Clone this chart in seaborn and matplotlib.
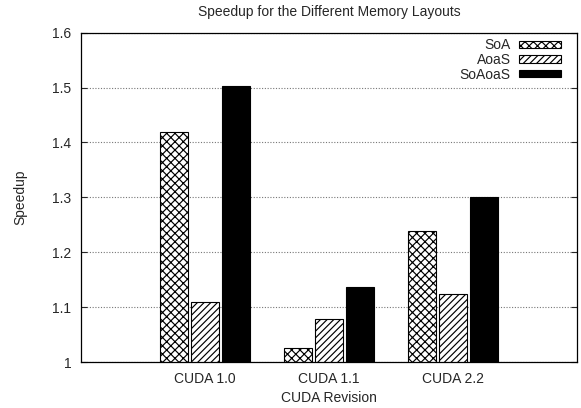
import numpy as np
import pandas as pd
import matplotlib
matplotlib.use("Agg")
import matplotlib.pyplot as plt
import seaborn as sbs


# Data
revisions = ["CUDA 1.0", "CUDA 1.1", "CUDA 2.2"]
layouts = ["SoA", "AoaS", "SoAoaS"]
speedup_soa = [1.419, 1.025, 1.239]
speedup_aoas = [1.109, 1.079, 1.124]
speedup_soaoas = [1.502, 1.136, 1.300]
y_ticks = [1.0, 1.1, 1.2, 1.3, 1.4, 1.5, 1.6]
y_tick_labels = ["1", "1.1", "1.2", "1.3", "1.4", "1.5", "1.6"]

results = pd.DataFrame({
    "Revision": revisions * 3,
    "Layout": np.repeat(layouts, len(revisions)),
    "Speedup": speedup_soa + speedup_aoas + speedup_soaoas,
})


sbs.set_style("white")
plt.rcParams["font.family"] = ["Liberation Sans", "DejaVu Sans"]
plt.rcParams["hatch.linewidth"] = 0.85

fig = plt.figure(figsize = (5.81, 4.08), dpi = 100)
ax = fig.add_axes([81 / 581, 1 - 362 / 408, (577 - 81) / 581, (362 - 32.7) / 408])

palette = {"SoA": "white", "AoaS": "white", "SoAoaS": "black"}
sbs.barplot(data = results, x = "Revision", y = "Speedup", hue = "Layout",
            order = revisions, hue_order = layouts,
            palette = palette, saturation = 1,
            width = 0.75, gap = 0.08,
            edgecolor = "black", linewidth = 0.8,
            legend = False, ax = ax)

# gnuplot-like fill patterns
for container, hatch in zip(ax.containers, ["xxxx", "/////", ""]):
    for bar in container:
        bar.set_hatch(hatch)

ax.legend(ax.containers, layouts, loc = "upper right", bbox_to_anchor = (0.978, 1.0),
          markerfirst = False, frameon = False, fontsize = 10,
          handlelength = 3.0, handleheight = 0.45,
          labelspacing = 0.05, handletextpad = 0.6, borderaxespad = 0.0)

ax.set_xlim(-1, 3)
ax.set_ylim(1.0, 1.6)
ax.set_yticks(y_ticks)
ax.set_yticklabels(y_tick_labels)

ax.set_axisbelow(True)
ax.yaxis.grid(True, linestyle = (0, (1, 1.5)), color = "#777777", linewidth = 0.8)
for spine in ax.spines.values():
    spine.set_visible(True)
    spine.set_color("black")
    spine.set_linewidth(0.9)

ax.tick_params(axis = "y", direction = "in", length = 4.5, width = 0.8,
               right = True, left = True, labelsize = 10, pad = 7)
ax.tick_params(axis = "x", length = 0, labelsize = 10, pad = 7)

ax.set_xlabel("CUDA Revision", fontsize = 10, labelpad = 4)
ax.set_ylabel("Speedup", fontsize = 10, labelpad = 18)
ax.set_title("Speedup for the Different Memory Layouts", fontsize = 10, pad = 12)

fig.savefig("out.png", dpi = 100)
